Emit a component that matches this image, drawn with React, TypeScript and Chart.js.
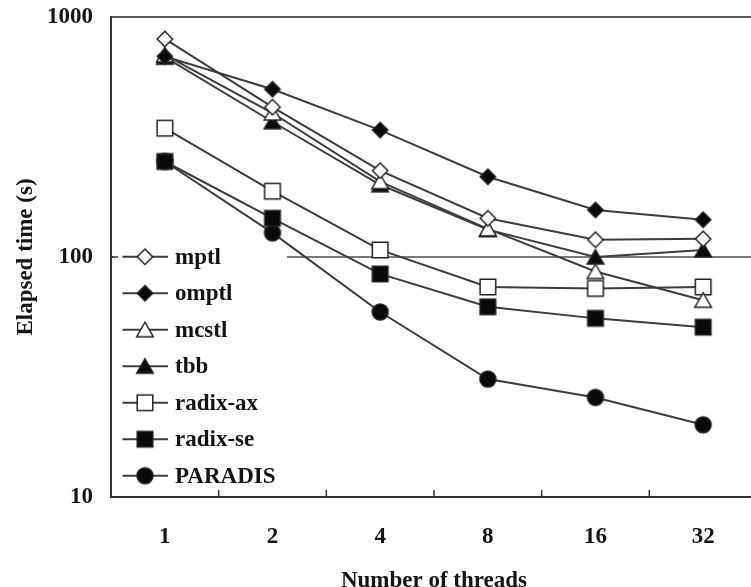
import React, { useEffect, useRef } from 'react';
import { Chart, registerables } from 'chart.js';

Chart.register(...registerables);

// ---- data ----
const threads = ['1', '2', '4', '8', '16', '32'];
const mptl = [810, 421, 229, 145, 118, 119];
const omptl = [685, 500, 338, 216, 157, 143];
const mcstl = [695, 398, 206, 131, 87, 66];
const tbb = [680, 366, 200, 130, 100, 107];
const radixAx = [344, 188, 107, 75, 74, 75];
const radixSe = [250, 145, 85, 62, 55.5, 51];
const paradis = [250, 126, 59, 31, 26, 20];
const yTicks = [10, 100, 1000];
const seriesNames = ['mptl', 'omptl', 'mcstl', 'tbb', 'radix-ax', 'radix-se', 'PARADIS'];
const seriesValues = [mptl, omptl, mcstl, tbb, radixAx, radixSe, paradis];
const seriesMarkers: [string, boolean][] = [
  ['diamond', false],
  ['diamond', true],
  ['triangle', false],
  ['triangle', true],
  ['square', false],
  ['square', true],
  ['circle', true],
];

const FONT_FAMILY = "'Liberation Serif', 'Times New Roman', serif";
const TEXT = '#141414';
const LINE = '#3c3c3c';

function makeMarker(kind: string, filled: boolean): HTMLCanvasElement {
  const c = document.createElement('canvas');
  c.width = 20;
  c.height = 20;
  const g = c.getContext('2d')!;
  g.beginPath();
  if (kind === 'diamond') {
    g.moveTo(10, 2.3);
    g.lineTo(17.7, 10);
    g.lineTo(10, 17.7);
    g.lineTo(2.3, 10);
    g.closePath();
  } else if (kind === 'triangle') {
    g.moveTo(10, 2.5);
    g.lineTo(18.3, 17);
    g.lineTo(1.7, 17);
    g.closePath();
  } else if (kind === 'square') {
    g.rect(2.2, 2.2, 15.6, 15.6);
  } else {
    g.arc(10, 10, 8, 0, Math.PI * 2);
  }
  g.fillStyle = filled ? '#0a0a0a' : '#ffffff';
  g.fill();
  g.lineWidth = 1.5;
  g.strokeStyle = '#222';
  g.stroke();
  return c;
}

export default function App() {
  const ref = useRef<HTMLCanvasElement | null>(null);

  useEffect(() => {
    if (!ref.current) return;
    const markers = seriesMarkers.map(([k, f]) => makeMarker(k, f));
    const font = { family: FONT_FAMILY, size: 23, weight: 'bold' as const };

    const legendPlugin = {
      id: 'customLegend',
      beforeDatasetsDraw(chart: any) {
        const { ctx, chartArea } = chart;
        const left = chartArea.left;
        ctx.save();
        ctx.fillStyle = '#ffffff';
        ctx.fillRect(left + 2, 238, 287 - left - 2, chartArea.bottom - 238 - 1);
        ctx.restore();
      },
      afterDatasetsDraw(chart: any) {
        const { ctx, chartArea } = chart;
        const left = chartArea.left;
        ctx.save();
        seriesNames.forEach((name, i) => {
          const y = 256.7 + i * 36.5;
          ctx.strokeStyle = LINE;
          ctx.lineWidth = 2;
          ctx.beginPath();
          ctx.moveTo(left + 11.5, y);
          ctx.lineTo(left + 57, y);
          ctx.stroke();
          ctx.drawImage(markers[i], left + 34 - 10, y - 10);
          ctx.fillStyle = TEXT;
          ctx.font = `bold 23px ${FONT_FAMILY}`;
          ctx.textAlign = 'left';
          ctx.textBaseline = 'middle';
          ctx.fillText(name, left + 64, y + 1);
        });
        ctx.restore();
      },
      afterDraw(chart: any) {
        const { ctx, chartArea, scales } = chart;
        ctx.save();
        ctx.strokeStyle = '#333';
        ctx.lineWidth = 1.5;
        const xs = scales.x;
        for (let i = 0; i < threads.length - 1; i++) {
          const x = (xs.getPixelForTick(i) + xs.getPixelForTick(i + 1)) / 2;
          ctx.beginPath();
          ctx.moveTo(x, chartArea.bottom);
          ctx.lineTo(x, chartArea.bottom - 7);
          ctx.stroke();
        }
        const ys = scales.y;
        const y100 = ys.getPixelForValue(100);
        ctx.beginPath();
        ctx.moveTo(chartArea.left, y100);
        ctx.lineTo(chartArea.left + 7, y100);
        ctx.stroke();
        ctx.restore();
      },
    };

    const chart = new Chart(ref.current, {
      type: 'line',
      data: {
        labels: threads,
        datasets: seriesNames.map((name, i) => ({
          label: name,
          data: seriesValues[i],
          borderColor: LINE,
          borderWidth: 2,
          backgroundColor: LINE,
          pointStyle: markers[i] as any,
          pointRadius: 8,
          fill: false,
          tension: 0,
        })),
      },
      options: {
        animation: false,
        responsive: false,
        devicePixelRatio: 1,
        layout: { padding: { top: 17, right: 8, left: 0, bottom: 0 } },
        plugins: {
          legend: { display: false },
          tooltip: { enabled: false },
        },
        scales: {
          x: {
            type: 'category',
            offset: true,
            grid: { display: false, drawTicks: false, tickLength: 0 },
            border: { display: true, color: '#333', width: 2 },
            ticks: { font, color: TEXT, padding: 26, maxRotation: 0 },
            title: {
              display: true,
              text: 'Number of threads',
              font,
              color: TEXT,
              padding: { top: 0, bottom: -8 },
            },
            afterFit: (s: any) => {
              s.height = 90;
              s.paddingLeft = 0;
              s.paddingRight = 0;
            },
          },
          y: {
            type: 'logarithmic',
            min: 10,
            max: 1000,
            afterBuildTicks: (s: any) => {
              s.ticks = yTicks.map((v) => ({ value: v }));
            },
            ticks: {
              font,
              color: TEXT,
              padding: 18,
              callback: (v: any) => String(v),
            },
            grid: {
              drawTicks: false,
              lineWidth: 2,
              color: (c: any) => {
                const v = c.tick && c.tick.value;
                if (v === 1000) return '#5a5a5a';
                if (v === 100) return '#7a7a7a';
                return 'rgba(0,0,0,0)';
              },
            },
            border: { display: true, color: '#333', width: 2 },
            title: {
              display: true,
              text: 'Elapsed time (s)',
              font,
              color: TEXT,
              padding: { top: 12, bottom: 0 },
            },
            afterFit: (s: any) => {
              s.width = 111;
              s.paddingTop = 0;
              s.paddingBottom = 0;
            },
          },
        },
      } as any,
      plugins: [legendPlugin],
    });
    return () => chart.destroy();
  }, []);

  return (
    <div
      style={{
        position: 'fixed',
        left: 0,
        top: 0,
        width: 751,
        height: 587,
        overflow: 'hidden',
        background: '#fff',
      }}
    >
      <canvas ref={ref} width={767} height={587} style={{ display: 'block' }} />
    </div>
  );
}
